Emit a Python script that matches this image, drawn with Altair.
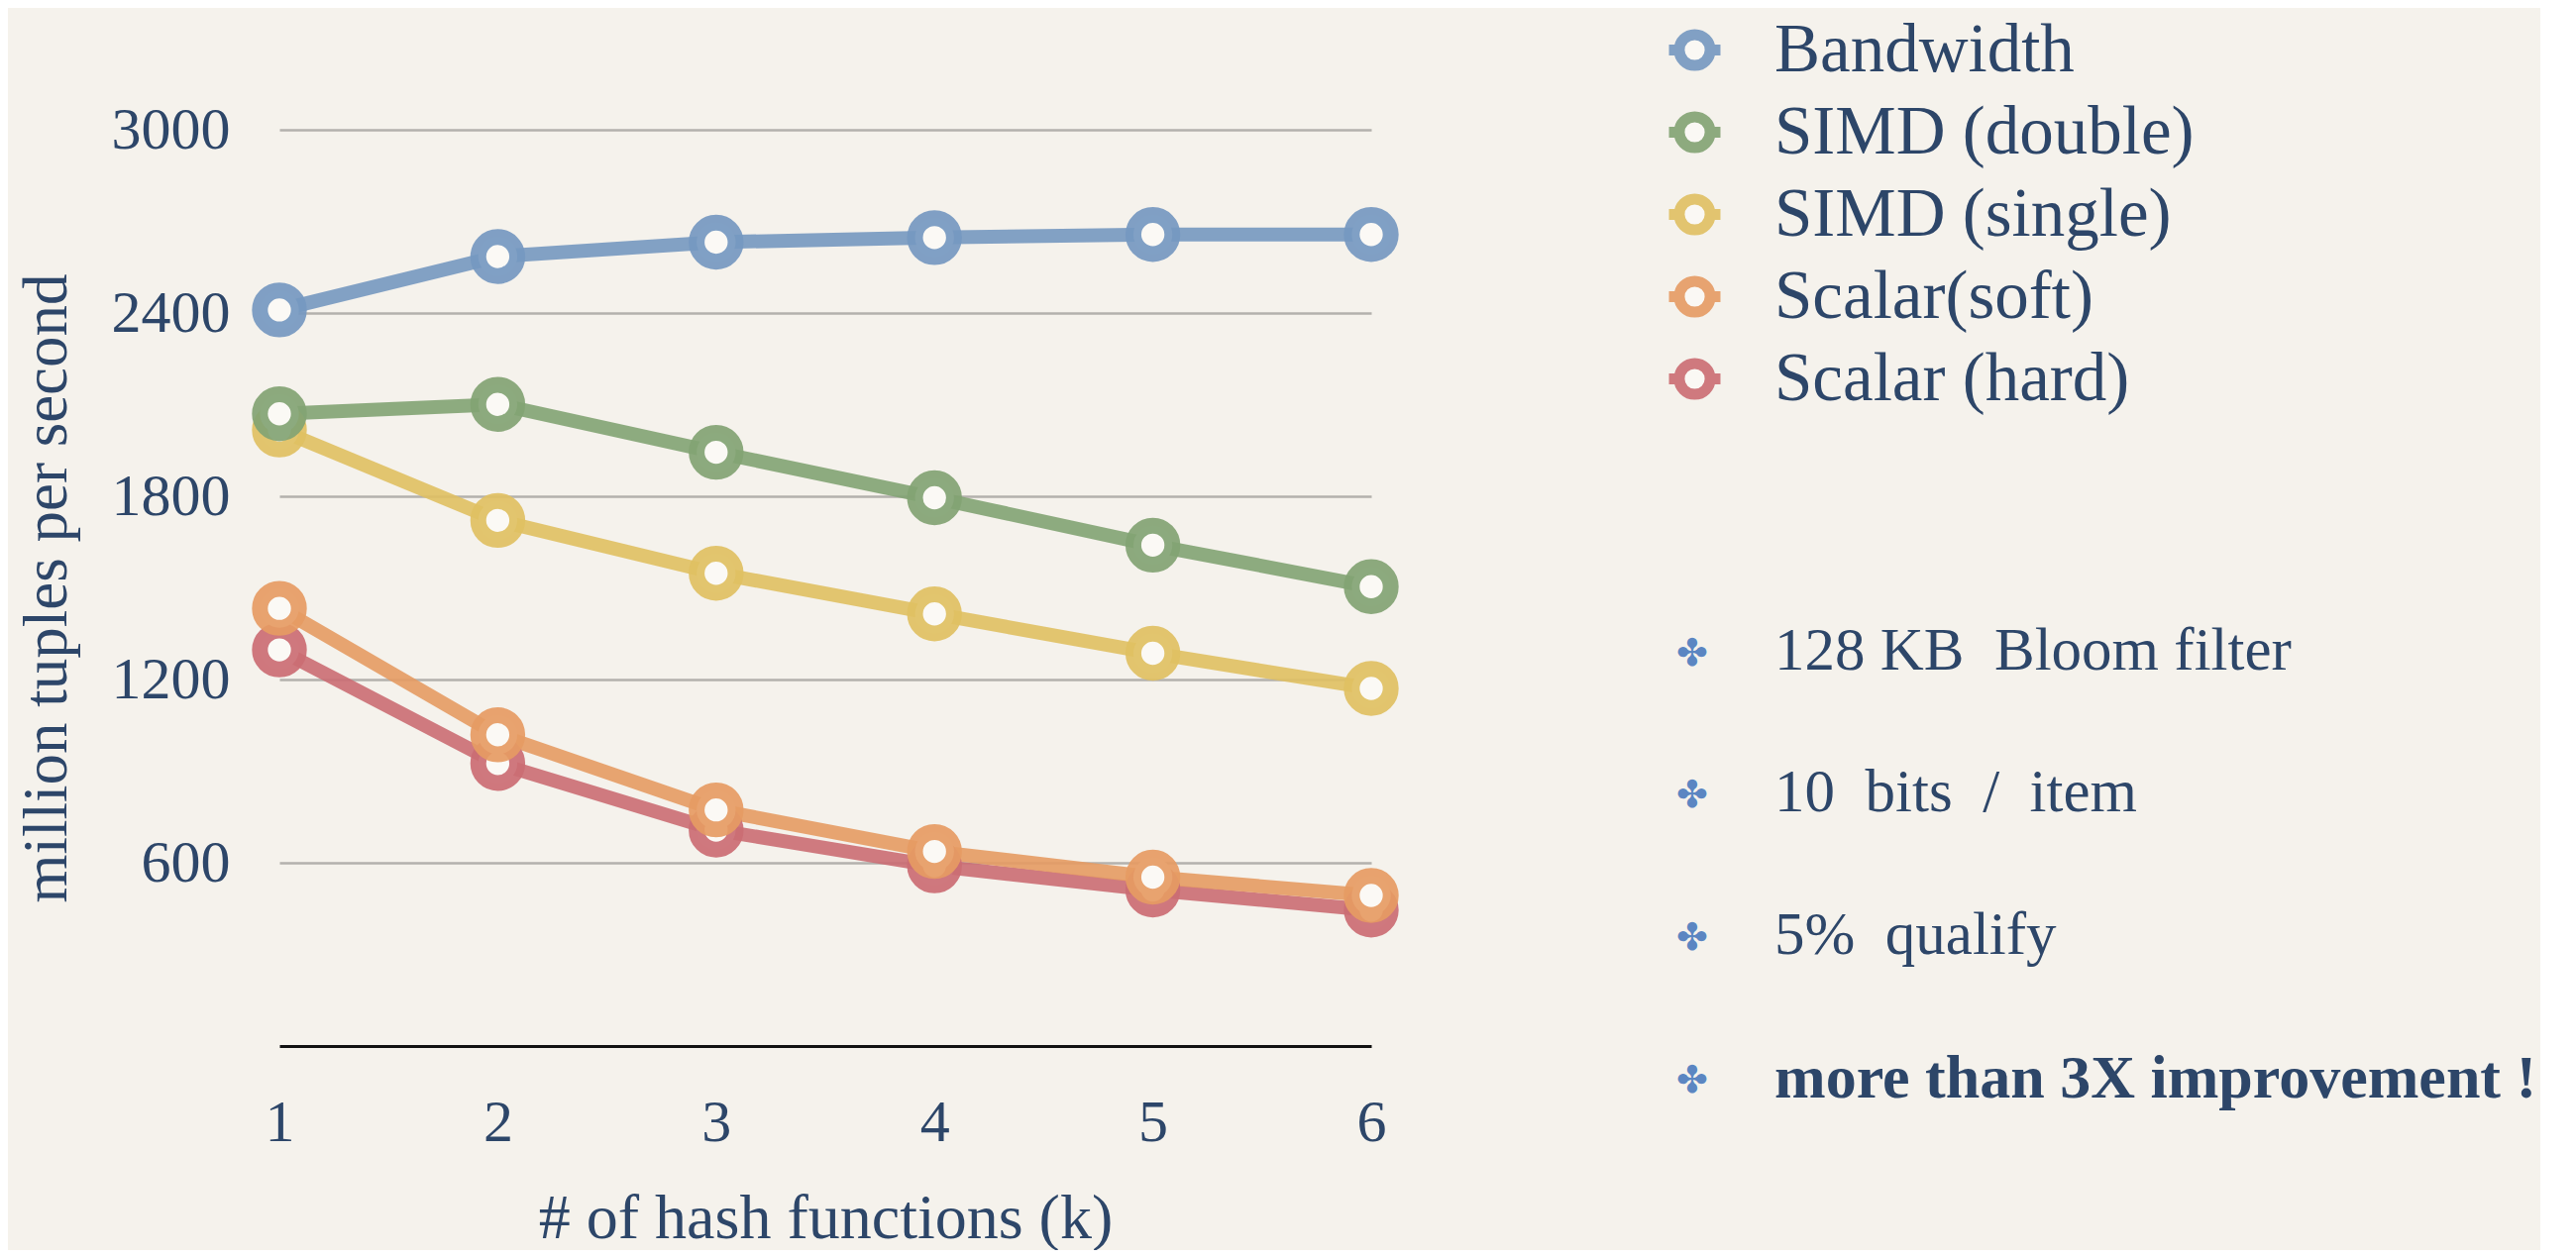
import altair as alt
import pandas as pd

k_values = [1, 2, 3, 4, 5, 6]
series_names = ["Bandwidth", "SIMD (double)", "SIMD (single)", "Scalar(soft)", "Scalar (hard)"]
bandwidth = [2410, 2585, 2632, 2647, 2657, 2657]
simd_double = [2070, 2101, 1944, 1795, 1640, 1504]
simd_single = [2017, 1721, 1548, 1415, 1286, 1171]
scalar_soft = [1433, 1019, 773, 637, 553, 493]
scalar_hard = [1297, 925, 707, 590, 511, 445]
colors = ["#7598c0", "#82a373", "#e0c062", "#e69b63", "#cb6d73"]
y_ticks = [600, 1200, 1800, 2400, 3000]
notes = ["128 KB\u00a0 Bloom filter", "10\u00a0 bits\u00a0 /\u00a0 item", "5%\u00a0 qualify"]
note_bold = "more than 3X improvement !"

values_by_series = {
    "Bandwidth": bandwidth,
    "SIMD (double)": simd_double,
    "SIMD (single)": simd_single,
    "Scalar(soft)": scalar_soft,
    "Scalar (hard)": scalar_hard,
}
rows = []
for name in reversed(series_names):
    for k, v in zip(k_values, values_by_series[name]):
        rows.append({"k": k, "value": v, "series": name})
df = pd.DataFrame(rows)

FONT = "Liberation Serif"
TXT = "#2d4669"

# ring with short line stubs, as in a line+marker legend entry
legend_symbol = ("M0.6,0 A0.6,0.6 0 1,1 -0.6,0 A0.6,0.6 0 1,1 0.6,0 Z "
                 "M0.6,0 L1,0 M-0.6,0 L-1,0")

color_scale = alt.Scale(domain=series_names, range=colors)

x_enc = alt.X("k:Q", scale=alt.Scale(domain=[1, 6], nice=False, zero=False),
              axis=alt.Axis(values=k_values, format="d", title="# of hash functions (k)",
                            grid=False, ticks=False, domain=True, domainColor="#111111",
                            domainWidth=3, labelPadding=48, titlePadding=35, labelFlush=False,
                            labelFontSize=60, titleFontSize=64, titleFontWeight="normal"))
y_enc = alt.Y("value:Q", scale=alt.Scale(domain=[0, 3000], nice=False),
              axis=alt.Axis(values=y_ticks, format="d", title="million tuples per second",
                            grid=True, gridColor="#b3b1ad", gridWidth=2.5, labelFlush=False,
                            ticks=False, domain=False, labelPadding=50, titlePadding=33,
                            labelFontSize=60, titleFontSize=63, titleFontWeight="normal"))

base = alt.Chart(df)
lines = base.mark_line(strokeWidth=14, opacity=0.9).encode(
    x=x_enc, y=y_enc,
    color=alt.Color("series:N", scale=color_scale, sort=series_names),
    detail="series:N",
)
points = base.mark_point(shape="circle", size=1550, strokeWidth=16, filled=False,
                         fill="#fbf9f5", fillOpacity=1, strokeOpacity=0.92).encode(
    x=x_enc, y=y_enc,
    color=alt.Color("series:N", scale=color_scale, sort=series_names,
                    legend=alt.Legend(title=None, orient="none", legendX=1394, legendY=-115,
                                      symbolType=legend_symbol, symbolSize=2700,
                                      symbolStrokeWidth=11, symbolFillColor="#fbf9f5",
                                      symbolOpacity=0.9,
                                      labelFont=FONT, labelFontSize=69, labelColor=TXT,
                                      labelOffset=46, rowPadding=6, padding=0,
                                      labelLimit=800)),
)

text_layers = []
note_y = [527, 670, 814]
for t, yy in zip(notes, note_y):
    text_layers.append(
        alt.Chart(alt.Data(values=[{"t": t}])).mark_text(
            font=FONT, fontSize=61, color=TXT, align="left", baseline="middle"
        ).encode(text="t:N", x=alt.value(1509), y=alt.value(yy))
    )
text_layers.append(
    alt.Chart(alt.Data(values=[{"t": note_bold}])).mark_text(
        font=FONT, fontSize=62, fontWeight="bold", color=TXT, align="left", baseline="middle"
    ).encode(text="t:N", x=alt.value(1509), y=alt.value(958))
)
for yy in note_y + [958]:
    text_layers.append(
        alt.Chart(alt.Data(values=[{"b": "\u2724"}])).mark_text(
            font="DejaVu Sans", fontSize=38, color="#5b86c2", align="center", baseline="middle"
        ).encode(text="b:N", x=alt.value(1426), y=alt.value(yy + 3))
    )

chart = alt.layer(lines, points, *text_layers).properties(
    width=1102, height=925,
    autosize=alt.AutoSizeParams(type="none"),
    padding={"left": 274, "top": 123, "right": 1180, "bottom": 206},
    background="#f5f2ec",
).configure_view(stroke=None).configure_axis(
    labelFont=FONT, titleFont=FONT, labelColor=TXT, titleColor=TXT,
).configure_legend(labelFont=FONT)

chart.save("out.html", embed_options={"renderer": "svg", "actions": False})
